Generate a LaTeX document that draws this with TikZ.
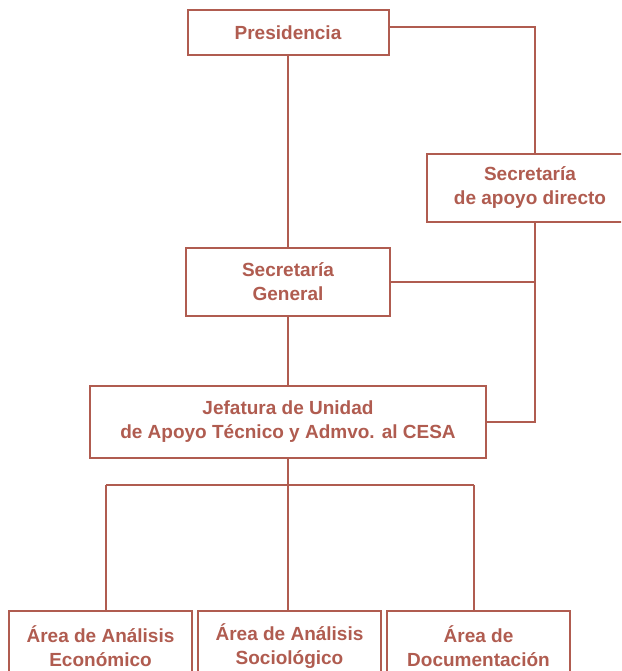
\documentclass[tikz,border=0pt]{standalone}
\usepackage{fontspec}
\setmainfont{Liberation Sans}
\definecolor{org}{RGB}{176,92,80}
\begin{document}
\begin{tikzpicture}[x=1pt,y=-1pt,
  box/.style={draw=org, line width=2pt, fill=white, text=org, align=center,
    font=\fontsize{19}{24}\selectfont\bfseries, inner sep=0pt},
  conn/.style={draw=org, line width=2pt}]
\useasboundingbox (0,0) rectangle (621,671);
\clip (0,0) rectangle (621,671);
\coordinate (rail) at (535,0);
\coordinate (bar) at (0,485);
\node[box, minimum width=201pt, minimum height=45pt] (pres) at (288,32.5) {Presidencia};
\node[box, minimum width=206pt, minimum height=68pt] (sad) at (530,188) {Secretaría\\de apoyo directo};
\node[box, minimum width=204pt, minimum height=68pt] (sg) at (288,282) {Secretaría\\General};
\node[box, minimum width=396pt, minimum height=72pt] (jef) at (288,422) {Jefatura de Unidad\\de Apoyo Técnico y Admvo. al CESA};
\node[box, minimum width=183pt, minimum height=70pt] (a1) at (100.5,646) {Área de Análisis\\Económico};
\node[box, minimum width=183pt, minimum height=70pt] (a2) at (289.5,646) {Área de Análisis\\Sociológico};
\node[box, minimum width=183pt, minimum height=70pt] (a3) at (478.5,646) {Área de\\Documentación};
\draw[conn] (pres.east |- 0,27) -| (sad.north -| rail);
\draw[conn] (pres.south) -- (sg.north);
\draw[conn] (sad.south -| rail) |- (jef.east);
\draw[conn] (sg.east) -- (sg.east -| rail);
\draw[conn] (sg.south) -- (jef.north);
\draw[conn] (jef.south) -- (jef.south |- bar);
\draw[conn] (106,485) coordinate (bl) -- (474,485) coordinate (br);
\draw[conn] (bl) -- (bl |- a1.north);
\draw[conn] (jef.south |- bar) -- (jef.south |- a2.north);
\draw[conn] (br) -- (br |- a3.north);
\end{tikzpicture}
\end{document}
